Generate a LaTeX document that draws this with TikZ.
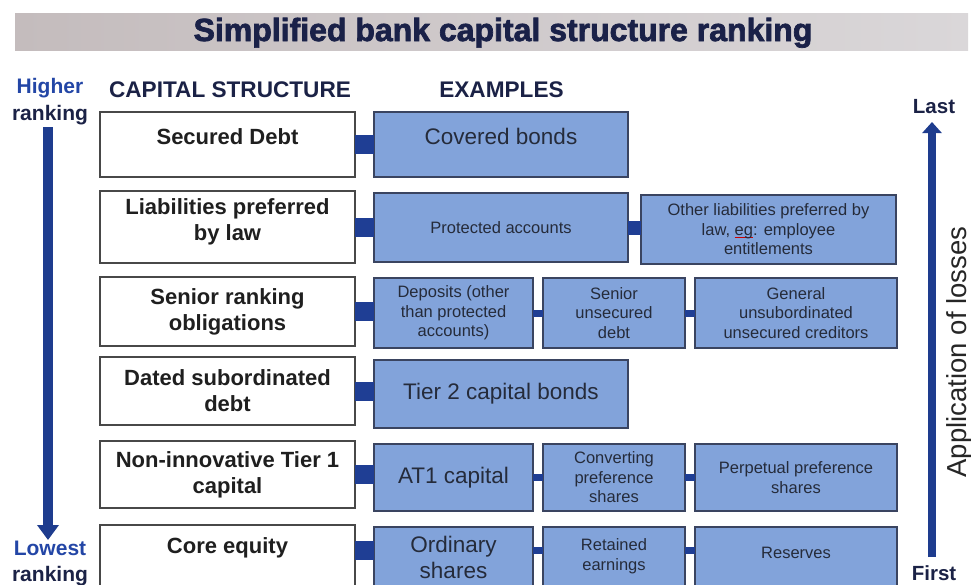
\documentclass[tikz,border=0pt]{standalone}
\usepackage{fontspec}
\setmainfont{Liberation Sans}
\newfontfamily\heavyfont[FakeBold=2.2]{Liberation Sans Bold}
\usetikzlibrary{arrows.meta}

\definecolor{titleink}{HTML}{1A2148}
\definecolor{headink}{HTML}{1B2246}
\definecolor{rankblue}{HTML}{2346A6}
\definecolor{arrowblue}{HTML}{1E3C8E}
\definecolor{linkblue}{HTML}{1F3E94}
\definecolor{exfill}{HTML}{82A3DA}
\definecolor{exborder}{HTML}{3A4460}
\definecolor{exink}{HTML}{252B3A}
\definecolor{capborder}{HTML}{484848}
\definecolor{bannerL}{HTML}{C4BCBD}
\definecolor{bannerR}{HTML}{DAD7D9}

\newcommand\fsz[2]{\fontsize{#1}{#2}\selectfont}
% red spell-check underline under a word
\newcommand\spellmark[1]{\setbox0=\hbox{#1}\rlap{\color{red!80!black}\rule[-2.4pt]{\wd0}{0.9pt}}\box0}

\begin{document}
\begin{tikzpicture}[x=1pt,y=-1pt,
  capbox/.style={draw=capborder, line width=1.4pt, fill=white, anchor=north west,
    outer sep=0pt, inner sep=0pt, align=center, text=black!88,
    font=\fsz{22}{26}\bfseries, minimum width=255pt},
  exbox/.style={draw=exborder, line width=1.4pt, fill=exfill, anchor=north west,
    outer sep=0pt, inner sep=0pt, align=center, text=exink},
  exbig/.style={font=\fsz{22.5}{26}},
  exsmall/.style={font=\fsz{16.5}{19.5}},
  biglink/.style={draw=linkblue, line width=19pt},
  midlink/.style={draw=linkblue, line width=14pt},
  thinlink/.style={draw=linkblue, line width=7pt},
  header/.style={anchor=base, text=headink, font=\fsz{22.6}{26}\bfseries},
  rankword/.style={anchor=base, font=\fsz{21}{24}\bfseries},
  lossword/.style={anchor=base, text=headink, font=\fsz{20.5}{24}\bfseries},
  rankarrow/.style={draw=arrowblue, line width=10pt, -{Triangle[width=21pt,length=15pt]}},
  lossarrow/.style={draw=arrowblue, line width=8.5pt, -{Triangle[width=19pt,length=11pt]}}
]
\useasboundingbox (0,0) rectangle (971,584);

% title banner
\node[anchor=north west, minimum width=953pt, minimum height=37pt, inner sep=0pt,
  left color=bannerL, right color=bannerR] (banner) at (15,13) {};
\node[anchor=base, text=titleink, font=\fsz{32}{36}\heavyfont] (title) at (503,41)
  {Simplified bank capital structure ranking};

% column headers
\node[header] (hcap) at (230,97) {CAPITAL STRUCTURE};
\node[header] (hex) at (501.5,97) {EXAMPLES};

% ranking labels and arrow
\node[rankword, text=rankblue] (hiA) at (50,93) {Higher};
\node[rankword, text=headink] (hiB) at (50,120) {ranking};
\node[rankword, text=rankblue] (loA) at (50,555) {Lowest};
\node[rankword, text=headink] (loB) at (50,581) {ranking};
\coordinate (rankTop) at (48,127);
\coordinate (rankTip) at (48,540);
\draw[rankarrow] (rankTop) -- (rankTip);

% loss absorption labels and arrow
\node[lossword] (last) at (934,113) {Last};
\node[lossword] (first) at (934,580) {First};
\coordinate (lossBottom) at (932,557);
\coordinate (lossTip) at (932,122);
\draw[lossarrow] (lossBottom) -- (lossTip);
\node[rotate=90, anchor=base, text=black!85, font=\fsz{27.5}{30}] (losses) at (966,352)
  {Application of losses};

% capital structure column
\node[capbox, minimum height=65pt, text depth=15pt] (c1) at (100,112) {Secured Debt};
\node[capbox, minimum height=72pt, text depth=14.6pt] (c2) at (100,191) {Liabilities preferred\\by law};
\node[capbox, minimum height=69pt] (c3) at (100,277) {Senior ranking\\obligations};
\node[capbox, minimum height=68pt] (c4) at (100,357) {Dated subordinated\\debt};
\node[capbox, minimum height=67pt] (c5) at (100,441) {Non-innovative Tier 1\\capital};
\node[capbox, minimum height=77pt, text depth=35.6pt] (c6) at (100,525) {Core equity};

% examples
\node[exbox, exbig, minimum width=254pt, minimum height=65pt, text depth=17pt] (e1) at (374,112) {Covered bonds};

\node[exbox, exsmall, minimum width=254pt, minimum height=69pt] (e2a) at (374,193) {Protected accounts};
\node[exbox, exsmall, minimum width=255pt, minimum height=69pt] (e2b) at (641,195)
  {Other liabilities preferred by\\law, \spellmark{eg}: employee\\entitlements};

\node[exbox, exsmall, minimum width=159pt, minimum height=70pt] (e3a) at (374,278) {Deposits (other\\than protected\\accounts)};
\node[exbox, exsmall, minimum width=142pt, minimum height=70pt] (e3b) at (543,278) {Senior\\unsecured\\debt};
\node[exbox, exsmall, minimum width=202pt, minimum height=70pt] (e3c) at (695,278) {General\\unsubordinated\\unsecured creditors};

\node[exbox, exbig, minimum width=254pt, minimum height=68pt] (e4) at (374,360) {Tier 2 capital bonds};

\node[exbox, exbig, minimum width=159pt, minimum height=67pt] (e5a) at (374,444) {AT1 capital};
\node[exbox, exsmall, minimum width=142pt, minimum height=67pt] (e5b) at (543,444) {Converting\\preference\\shares};
\node[exbox, exsmall, minimum width=202pt, minimum height=67pt] (e5c) at (695,444) {Perpetual preference\\shares};

\node[exbox, exbig, minimum width=159pt, minimum height=75pt, text depth=15pt] (e6a) at (374,527) {Ordinary\\shares};
\node[exbox, exsmall, minimum width=142pt, minimum height=75pt, text depth=19.5pt] (e6b) at (543,527) {Retained\\earnings};
\node[exbox, exsmall, minimum width=202pt, minimum height=75pt, text depth=23pt] (e6c) at (695,527) {Reserves};

% connectors
\coordinate (row6) at (0,550);
\draw[biglink] (c1.east) -- (c1.east -| e1.west);
\draw[biglink] (c2.east) -- (c2.east -| e2a.west);
\draw[biglink] (c3.east) -- (c3.east -| e3a.west);
\draw[biglink] (c4.east) -- (c4.east -| e4.west);
\draw[biglink] (c5.east) -- (c5.east -| e5a.west);
\draw[biglink] (c6.east |- row6) -- (e6a.west |- row6);

\draw[midlink] (e2a.east) -- (e2a.east -| e2b.west);
\draw[thinlink] (e3a.east) -- (e3b.west);
\draw[thinlink] (e3b.east) -- (e3c.west);
\draw[thinlink] (e5a.east) -- (e5b.west);
\draw[thinlink] (e5b.east) -- (e5c.west);
\draw[thinlink] (e6a.east |- row6) -- (e6b.west |- row6);
\draw[thinlink] (e6b.east |- row6) -- (e6c.west |- row6);
\end{tikzpicture}
\end{document}
